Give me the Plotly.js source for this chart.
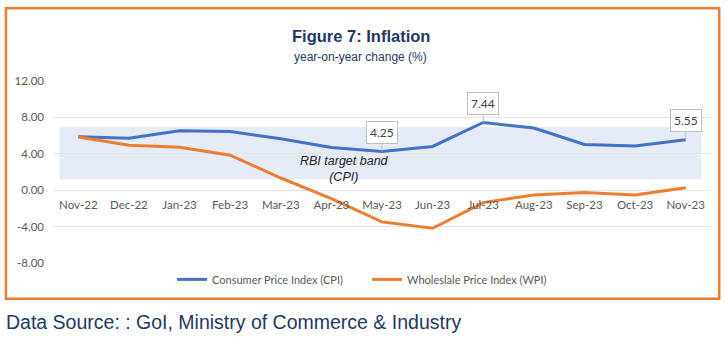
<!DOCTYPE html>
<html>
<head>
<meta charset="utf-8">
<script src="https://cdn.plot.ly/plotly-3.0.1.min.js"></script>
<style>html,body{margin:0;padding:0;background:#fff;}#chart{width:727px;height:337px;}</style>
</head>
<body>
<div id="chart"></div>
<script>
// ---- data ----
const months = ["Nov-22","Dec-22","Jan-23","Feb-23","Mar-23","Apr-23","May-23","Jun-23","Jul-23","Aug-23","Sep-23","Oct-23","Nov-23"];
const cpi = [5.88, 5.72, 6.52, 6.44, 5.66, 4.70, 4.25, 4.81, 7.44, 6.83, 5.02, 4.87, 5.55];
const wpi = [5.85, 4.95, 4.73, 3.85, 1.34, -0.92, -3.48, -4.18, -1.36, -0.52, -0.26, -0.52, 0.26];
const labelledMonths = ["May-23", "Jul-23", "Nov-23"];
const bandRange = [1.2, 6.95];
const yTicks = [-8, -4, 0, 4, 8, 12];

const axisFont = {family: "Lato, Carlito, sans-serif", size: 11.5, color: "#595959"};

const traces = [
  {x: months, y: cpi, type: "scatter", mode: "lines", name: "Consumer Price Index (CPI)",
   line: {color: "#4472c4", width: 3}},
  {x: months, y: wpi, type: "scatter", mode: "lines", name: "Wholeslale Price Index (WPI)",
   line: {color: "#ed7d31", width: 3}}
];

const annotations = labelledMonths.map(m => {
  const i = months.indexOf(m);
  return {x: m, y: cpi[i], xref: "x", yref: "y", text: cpi[i].toFixed(2),
    showarrow: true, arrowhead: 0, arrowwidth: 1, arrowcolor: "#bfbfbf", ax: 0, ay: -19,
    bordercolor: "#bfbfbf", borderwidth: 1, borderpad: 3, bgcolor: "#ffffff",
    font: {family: "Lato, Carlito, sans-serif", size: 12, color: "#404040"}};
});
annotations.push({x: 5.25, y: 2.3, xref: "x", yref: "y", showarrow: false,
  text: "<i>RBI target band<br>(CPI)</i>", align: "center",
  font: {family: "Liberation Sans, Arial, sans-serif", size: 12.5, color: "#262626"}});
annotations.push({x: -0.075, y: -0.325, xref: "paper", yref: "paper", xanchor: "left", yanchor: "middle",
  showarrow: false, text: "Data Source: : GoI, Ministry of Commerce &amp; Industry",
  font: {family: "Liberation Sans, Arial, sans-serif", size: 19.5, color: "#1f3864"}});
annotations.push({x: 0.468, y: 1.245, xref: "paper", yref: "paper", xanchor: "center", yanchor: "middle",
  showarrow: false, text: "<b>Figure 7: Inflation</b>",
  font: {family: "Liberation Sans, Arial, sans-serif", size: 16.5, color: "#1f3864"}});
annotations.push({x: 0.468, y: 1.13, xref: "paper", yref: "paper", xanchor: "center", yanchor: "middle",
  showarrow: false, text: "year-on-year change (%)",
  font: {family: "Liberation Sans, Arial, sans-serif", size: 12, color: "#1f3864"}});

const layout = {
  width: 727, height: 337,
  margin: {l: 53, r: 16, t: 81, b: 74},
  paper_bgcolor: "#ffffff", plot_bgcolor: "#ffffff",
  showlegend: true,
  legend: {orientation: "h", x: 0.181, xanchor: "left", y: -0.09, yanchor: "middle", entrywidth: 150,
    font: {family: "Lato, Carlito, sans-serif", size: 11, color: "#595959"}, traceorder: "normal"},
  xaxis: {type: "category", range: [-0.5, 12.5], showgrid: false, showline: false, zeroline: false,
    ticks: "", anchor: "free", position: 0.4, ticklabelstandoff: 6, tickfont: axisFont},
  yaxis: {range: [-8, 12], tickvals: yTicks, ticktext: yTicks.map(v => v.toFixed(2)),
    showgrid: true, gridcolor: "#e3e3e3", gridwidth: 1, zeroline: false, showline: false,
    ticks: "", ticklabelstandoff: 8, tickfont: axisFont},
  shapes: [
    {type: "rect", xref: "x", yref: "y", x0: -0.375, x1: 12.31, y0: bandRange[0], y1: bandRange[1],
     fillcolor: "#e6ecf7", line: {width: 0}, layer: "below"},
    {type: "rect", xref: "paper", yref: "paper", x0: -0.0715, x1: 1.0125, y0: -0.197, y1: 1.40,
     line: {color: "#ed7d31", width: 2.5}, fillcolor: "rgba(0,0,0,0)"}
  ],
  annotations: annotations
};

Plotly.newPlot("chart", traces, layout, {displayModeBar: false, staticPlot: true});
</script>
</body>
</html>
